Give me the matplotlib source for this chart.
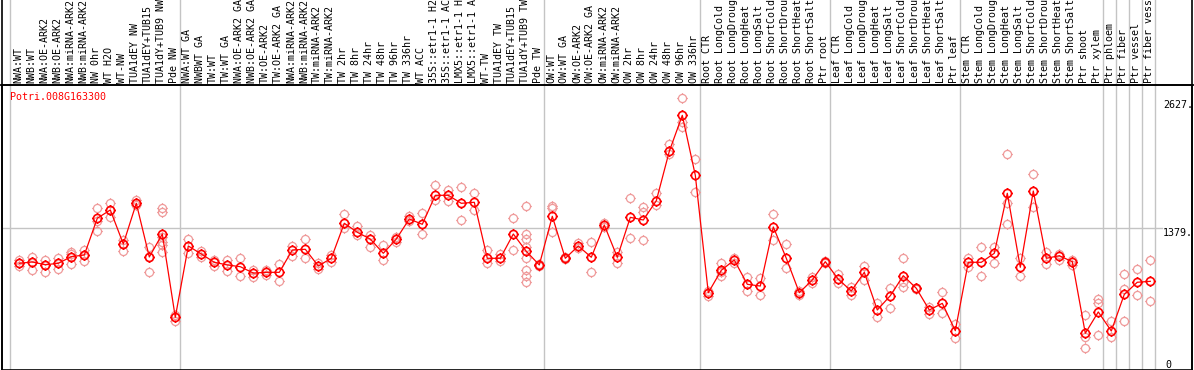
import numpy as np
import matplotlib.pyplot as plt
from matplotlib.path import Path
import matplotlib.transforms as mtransforms

# sample names (top, rotated); the chart only shows the first 14 characters
labels = [
    "NWA:WT", "NWB:WT", "NWA:OE-ARK2", "NWB:OE-ARK2", "NWA:miRNA-ARK2", "NWB:miRNA-ARK2",
    "NW 0hr", "WT H2O", "WT-NW", "TUA1dEY NW", "TUA1dEY+TUB15", "TUA1dY+TUB9 NW", "Pde NW",
    "NWA:WT GA", "NWBWT GA", "TW:WT", "TW:WT GA", "NWA:OE-ARK2 GA", "NWB:OE-ARK2 GA",
    "TW:OE-ARK2", "TW:OE-ARK2 GA", "NWA:miRNA-ARK2", "NWB:miRNA-ARK2", "TW:miRNA-ARK2",
    "TW:miRNA-ARK2", "TW 2hr", "TW 8hr", "TW 24hr", "TW 48hr", "TW 96hr", "TW 336hr", "WT ACC",
    "35S::etr1-1 H2", "35S::etr1-1 AC", "LMX5::etr1-1 H", "LMX5::etr1-1 A", "WT-TW",
    "TUA1dEY TW", "TUA1dEY+TUB15", "TUA1dY+TUB9 TW", "Pde TW",
    "OW:WT", "OW:WT GA", "OW:OE-ARK2", "OW:OE-ARK2 GA", "OW:miRNA-ARK2", "OW:miRNA-ARK2",
    "OW 2hr", "OW 8hr", "OW 24hr", "OW 48hr", "OW 96hr", "OW 336hr",
    "Root CTR", "Root LongCold", "Root LongDroug", "Root LongHeat", "Root LongSalt",
    "Root ShortCold", "Root ShortDrou", "Root ShortHeat", "Root ShortSalt", "Ptr root",
    "Leaf CTR", "Leaf LongCold", "Leaf LongDroug", "Leaf LongHeat", "Leaf LongSalt",
    "Leaf ShortCold", "Leaf ShortDrou", "Leaf ShortHeat", "Leaf ShortSalt", "Ptr leaf",
    "Stem CTR", "Stem LongCold", "Stem LongDroug", "Stem LongHeat", "Stem LongSalt",
    "Stem ShortCold", "Stem ShortDrou", "Stem ShortHeat", "Stem ShortSalt", "Ptr shoot",
    "Ptr xylem", "Ptr phloem", "Ptr fiber", "Ptr vessel", "Ptr fiber vess",
]

# mean expression per sample
means = [
    1037, 1050, 1023, 1037, 1102, 1118, 1477, 1558, 1226, 1623, 1099, 1323, 510,
    1206, 1128, 1047, 1021, 1004, 942, 949, 949, 1167, 1174, 1011, 1086, 1428, 1340,
    1274, 1135, 1274, 1470, 1418, 1701, 1701, 1623, 1633, 1086, 1086, 1323, 1154, 1021,
    1496, 1086, 1206, 1096, 1411, 1096, 1486, 1460, 1648, 2131, 2482, 1897,
    750, 969, 1069, 832, 815, 1392, 1086, 750, 874, 1053,
    881, 767, 949, 581, 721, 916, 793, 581, 646, 379,
    1047, 1047, 1135, 1721, 998, 1743, 1086, 1111, 1053, 354, 562,
    376, 734, 852, 861,
]

# individual replicates
reps = [
    [1069, 1037, 1011], [1102, 1050, 969], [1069, 1023, 952], [1092, 1037, 984],
    [1145, 1128, 1027], [1167, 1118, 1063], [1574, 1453, 1350], [1623, 1558, 1486],
    [1265, 1226, 1160], [1655, 1623, 1607], [1199, 1099, 955],
    [1574, 1541, 1297, 1248, 1216, 1150], [532, 477],
    [1272, 1141], [1160, 1096], [1069, 1014], [1069, 962], [1086, 916], [972, 906],
    [972, 923], [1030, 867], [1209, 1111], [1274, 1086], [1040, 985], [1118, 1047],
    [1516, 1379], [1401, 1313], [1313, 1199], [1216, 1069], [1297, 1250], [1499, 1450],
    [1525, 1323], [1799, 1655], [1753, 1648], [1782, 1460], [1724, 1558], [1167, 1043],
    [1125, 1063], [1480, 1164], [1597, 1320, 1274, 1199, 1086, 972, 913, 852], [1030, 1010],
    [1597, 1574, 1346], [1102, 1075], [1238, 1184], [1242, 949], [1428, 1395], [1150, 1037],
    [1672, 1287], [1590, 1535, 1265], [1721, 1607], [2199, 2102], [2648, 2420, 2365],
    [2053, 1731],
    [767, 721], [1037, 950, 916], [1090, 1040], [906, 767], [891, 728], [1516, 1265],
    [1223, 988], [770, 730], [906, 848], [1063, 1040],
    [930, 848], [803, 728], [1014, 874], [646, 516], [793, 598], [1086, 857, 809],
    [800, 785], [613, 539], [754, 549], [441, 305],
    [1092, 1004], [1193, 916], [1199, 1037], [2102, 1623, 1418], [1086, 913], [1906, 1584],
    [1145, 1030], [1128, 1069], [1069, 1021], [532, 320, 213], [686, 646, 337],
    [474, 320], [933, 783, 474], [979, 728], [1069, 669],
]

group_ends = [-1, 12, 40, 52, 62, 72, 83, 84, 85, 86, 87]
gene = "Potri.008G163300"
ymax_label = 2627
ymid_label = 1379

plt.rcParams['font.family'] = ['DejaVu Sans Mono']
plt.rcParams['font.size'] = 7.2

W, H = 1194, 370
fig = plt.figure(figsize=(W / 100, H / 100), dpi=100)
L, R, T, B = 1.5, 1192, 85, 369.5
ax = fig.add_axes([L / W, (H - B) / H, (R - L) / W, (B - T) / H])
ax.set_xlim((L - 19.3) / 13, (R - 19.3) / 13)
ax.set_ylim(0, (B - T) / 0.1024)
ax.set_xticks([])
ax.set_yticks([])
for s in ax.spines.values():
    s.set_linewidth(1.2)
    s.set_color('black')

# marker: open circle with four little ticks
circ = Path.unit_circle()
k = 1.3
ticks = Path([[0, 1], [0, k], [0, -1], [0, -k], [1, 0], [k, 0], [-1, 0], [-k, 0]],
             [Path.MOVETO, Path.LINETO] * 4)
mk = Path.make_compound_path(circ, ticks)
msize = 10.5 * 0.72

top_frac = (B - 0) / (B - T)
for e in group_ends:
    xv = e + 0.36 if e >= 0 else -0.7
    ax.axvline(xv, ymin=0, ymax=top_frac, color='#c4c4c4', lw=1.0, clip_on=False, zorder=1)

xr = (1162 - 19.3) / 13
ax.plot([ax.get_xlim()[0], xr], [ymid_label, ymid_label], color='#c4c4c4', lw=1.0,
        clip_on=False, zorder=1)

x = np.arange(len(means))
for i, r in enumerate(reps):
    ax.plot([i] * len(r), r, linestyle='none', marker=mk, markersize=msize,
            markerfacecolor='none', markeredgecolor='#ef9a9a', markeredgewidth=0.9, zorder=2)
ax.plot(x, means, color='red', lw=0.9, zorder=3)
ax.plot(x, means, linestyle='none', marker=mk, markersize=msize, markerfacecolor='none',
        markeredgecolor='red', markeredgewidth=1.2, zorder=4)

# sample labels above the plot
trans = mtransforms.blended_transform_factory(ax.transData, ax.transAxes)
off = mtransforms.ScaledTranslation(0, 2 / 100, fig.dpi_scale_trans)
for i, lab in enumerate(labels):
    ax.text(i - 0.1, 1, lab, transform=trans + off, rotation=90, ha='center', va='bottom',
            clip_on=False)

fig.text(10 / W, (H - 96.7) / H, gene, color='red', ha='left', va='center')
rt = mtransforms.blended_transform_factory(fig.transFigure, ax.transData)
ax.text(1163 / W, ymax_label, "2627.", transform=rt, ha='left', va='top', clip_on=False)
ax.text(1163 / W, ymid_label, "1379.", transform=rt, ha='left', va='top', clip_on=False)
ax.text(1165 / W, 0, "0", transform=rt, ha='left', va='bottom', clip_on=False)

# black frame lines running through the label strip
for xp in (L, R):
    fig.add_artist(plt.Line2D([xp / W, xp / W], [(H - B) / H, 1], color='black', lw=1.2))
fig.add_artist(plt.Line2D([0, 1], [(H - T) / H, (H - T) / H], color='black', lw=1.2))

fig.savefig("out.png", dpi=100)
